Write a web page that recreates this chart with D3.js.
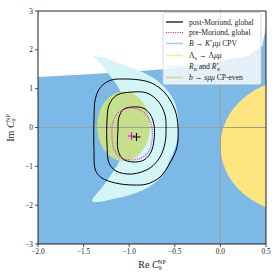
<!DOCTYPE html>
<html><head><meta charset="utf-8">
<script src="https://cdn.jsdelivr.net/npm/d3@7"></script>
<style>body{margin:0;background:#fff}svg{display:block}text{font-family:"Liberation Serif","DejaVu Serif",serif;fill:#222}</style>
</head><body>
<svg id="c" width="280" height="280"></svg>
<script>
// ---- data (Re C9, Im C9) ----
const xTicks = [-2.0,-1.5,-1.0,-0.5,0.0,0.5];
const yTicks = [-3,-2,-1,0,1,2,3];
const blueTop = [[-2,1.30],[-1.4,1.38],[-0.88,1.455],[-0.63,1.50],[-0.11,1.66],[0.3,1.85],[0.46,2.1],[0.5,2.6]];
const yellowCenter = [0.85,-0.475];
const yellowRadii = [0.85,1.73];
const cyanOutline = [[-1.397,1.84],[-1.265,1.79],[-1.068,1.61],[-0.882,1.455],[-0.717,1.25],[-0.586,0.966],[-0.498,0.631],[-0.465,0.27],[-0.465,-0.064],[-0.487,-0.45],[-0.553,-0.837],[-0.662,-1.30],[-0.805,-1.56],[-0.991,-1.74],[-1.178,-1.84],[-1.353,-1.92],[-1.408,-1.89],
  [-1.386,-1.79],[-1.287,-1.51],[-1.178,-1.146],[-1.101,-0.837],[-1.035,-0.32],[-1.024,0.19],[-1.057,0.71],[-1.123,1.04],[-1.21,1.33],[-1.32,1.66],[-1.386,1.82]];
const greenCenter = [-1.062,0.03];
const greenRadii = [0.29,0.9];
const postOuter = [[-1.068,1.249],[-0.882,1.223],[-0.75,1.14],[-0.607,0.888],[-0.498,0.451],[-0.465,0.013],[-0.476,-0.502],[-0.553,-0.914],[-0.662,-1.275],[-0.805,-1.455],[-0.958,-1.481],[-1.15,-1.43],[-1.30,-1.30],[-1.37,-1.10],[-1.386,-0.6],[-1.386,0.2],[-1.37,0.75],[-1.31,1.05],[-1.20,1.22]];
const postMiddle = [[-0.958,0.914],[-0.805,0.888],[-0.684,0.682],[-0.607,0.322],[-0.596,-0.013],[-0.607,-0.399],[-0.662,-0.760],[-0.772,-1.043],[-0.969,-1.198],[-1.145,-1.120],[-1.221,-0.914],[-1.243,-0.451],[-1.243,0.193],[-1.221,0.579],[-1.134,0.837]];
const postInner = [[-0.958,0.528],[-0.849,0.502],[-0.772,0.348],[-0.728,0.064],[-0.728,-0.322],[-0.761,-0.631],[-0.838,-0.837],[-0.958,-0.888],[-1.068,-0.811],[-1.123,-0.579],[-1.123,-0.064],[-1.112,0.270],[-1.057,0.476]];
const preInner = [[-0.991,0.502],[-0.882,0.451],[-0.794,0.270],[-0.750,-0.013],[-0.750,-0.322],[-0.783,-0.605],[-0.871,-0.785],[-0.991,-0.837],[-1.101,-0.760],[-1.167,-0.554],[-1.189,-0.219],[-1.178,0.142],[-1.112,0.399]];
const postBest = [-0.92,-0.245];
const preBest = [-0.975,-0.22];
const legendLabels = ["post-Moriond, global","pre-Moriond, global","B → K*μμ CPV","Λb → Λμμ","RK and RK*","b → sμμ CP-even"];
const legendColors = ["#000","#ee00ee","#a6cbe9","#fde68c","#dff7f7","#c2df8a"];

// ---- layout ----
const svg = d3.select("#c");
const L=38,R=266,T=11,B=244;
const x = d3.scaleLinear().domain([-2,0.5]).range([L,R]);
const y = d3.scaleLinear().domain([-3,3]).range([B,T]);

svg.append("defs").append("clipPath").attr("id","clip").append("rect")
  .attr("x",L).attr("y",T).attr("width",R-L).attr("height",B-T);
const g = svg.append("g").attr("clip-path","url(#clip)");

// blue region
const bluePoly = blueTop.concat([[0.5,-3.2],[-2,-3.2]]);
g.append("path").attr("d", d3.line().x(d=>x(d[0])).y(d=>y(d[1])).curve(d3.curveLinearClosed)(bluePoly))
  .attr("fill","#7db9e6");
// yellow region
g.append("ellipse").attr("cx",x(yellowCenter[0])).attr("cy",y(yellowCenter[1]))
  .attr("rx",x(yellowCenter[0]+yellowRadii[0])-x(yellowCenter[0]))
  .attr("ry",y(yellowCenter[1])-y(yellowCenter[1]+yellowRadii[1]))
  .attr("fill","#fde57f");
// cyan region
const closed = d3.line().x(d=>x(d[0])).y(d=>y(d[1])).curve(d3.curveCatmullRomClosed.alpha(0.5));
g.append("path").attr("d",closed(cyanOutline)).attr("fill","#d4f5f5");
// green region
g.append("ellipse").attr("cx",x(greenCenter[0])).attr("cy",y(greenCenter[1]))
  .attr("rx",x(greenCenter[0]+greenRadii[0])-x(greenCenter[0]))
  .attr("ry",y(greenCenter[1])-y(greenCenter[1]+greenRadii[1]))
  .attr("fill","#c6df8c");
// grid lines at 0
g.append("line").attr("x1",x(0)).attr("x2",x(0)).attr("y1",T).attr("y2",B).attr("stroke","#9e9e9e").attr("stroke-width",1);
g.append("line").attr("x1",L).attr("x2",R).attr("y1",y(0)).attr("y2",y(0)).attr("stroke","#9e9e9e").attr("stroke-width",1);
// contours
[postOuter,postMiddle,postInner].forEach(c=>{
  g.append("path").attr("d",closed(c)).attr("fill","none").attr("stroke","#000").attr("stroke-width",1);
});
g.append("path").attr("d",closed(preInner)).attr("fill","none").attr("stroke","#ee00ee").attr("stroke-width",1.1).attr("stroke-dasharray","1,1.3");
// best fit markers
function plus(p,col){
  const cx=x(p[0]),cy=y(p[1]);
  g.append("path").attr("d",`M${cx-4},${cy}H${cx+4}M${cx},${cy-4}V${cy+4}`).attr("stroke",col).attr("stroke-width",1.1);
}
plus(preBest,"#ee00ee");
plus(postBest,"#000");

// frame
svg.append("rect").attr("x",L).attr("y",T).attr("width",R-L).attr("height",B-T).attr("fill","none").attr("stroke","#222").attr("stroke-width",1);

// ticks
xTicks.forEach(t=>{
  svg.append("line").attr("x1",x(t)).attr("x2",x(t)).attr("y1",B).attr("y2",B+3).attr("stroke","#222").attr("stroke-width",0.8);
  svg.append("text").attr("x",x(t)).attr("y",B+10).attr("text-anchor","middle").attr("font-size",7.3)
    .text(d3.format(".1f")(t).replace("-","−"));
});
yTicks.forEach(t=>{
  svg.append("line").attr("x1",L-3).attr("x2",L).attr("y1",y(t)).attr("y2",y(t)).attr("stroke","#222").attr("stroke-width",0.8);
  svg.append("text").attr("x",L-5).attr("y",y(t)+2.5).attr("text-anchor","end").attr("font-size",7.3)
    .text(String(t).replace("-","−"));
});
// axis labels
function cLabel(sel){
  sel.append("tspan").text("C").attr("font-style","italic");
  sel.append("tspan").text("9").attr("font-size",6).attr("dy",2);
  sel.append("tspan").text("NP").attr("font-size",6).attr("dx",-3.5).attr("dy",-6);
}
const xl = svg.append("text").attr("x",152).attr("y",268).attr("text-anchor","middle").attr("font-size",10);
xl.append("tspan").text("Re ");
cLabel(xl);
const yl = svg.append("text").attr("transform","translate(14,128) rotate(-90)").attr("text-anchor","middle").attr("font-size",10);
yl.append("tspan").text("Im ");
cLabel(yl);

// legend
const lg = svg.append("g");
lg.append("rect").attr("x",163).attr("y",12.5).attr("width",98).attr("height",72).attr("rx",2)
  .attr("fill","#fff").attr("fill-opacity",0.8).attr("stroke","#ccc").attr("stroke-width",0.8);
const rowsY = [22,32.5,43.5,55.5,66.5,77.5];
legendLabels.forEach((lab,i)=>{
  const yy = rowsY[i];
  const ln = lg.append("line").attr("x1",166).attr("x2",183).attr("y1",yy).attr("y2",yy)
    .attr("stroke",legendColors[i]).attr("stroke-width",i<2?1.2:1.5);
  if(i===1) ln.attr("stroke-dasharray","1,1.3");
  const tx = lg.append("text").attr("x",189).attr("y",yy+2.5).attr("font-size",7.6);
  if(i===2){
    tx.append("tspan").text("B").attr("font-style","italic");
    tx.append("tspan").text(" → ");
    tx.append("tspan").text("K").attr("font-style","italic");
    tx.append("tspan").text("*").attr("font-size",5).attr("dy",-3);
    tx.append("tspan").text("μμ").attr("font-style","italic").attr("dy",3);
    tx.append("tspan").text(" CPV");
  } else if(i===3){
    tx.append("tspan").text("Λ");
    tx.append("tspan").text("b").attr("font-size",5).attr("dy",1.5);
    tx.append("tspan").text(" → Λ").attr("dy",-1.5);
    tx.append("tspan").text("μμ").attr("font-style","italic");
  } else if(i===4){
    tx.append("tspan").text("R").attr("font-style","italic");
    tx.append("tspan").text("K").attr("font-style","italic").attr("font-size",5).attr("dy",1.5);
    tx.append("tspan").text(" and ").attr("dy",-1.5);
    tx.append("tspan").text("R").attr("font-style","italic");
    tx.append("tspan").text("*").attr("font-size",5).attr("dy",-3);
    tx.append("tspan").text("K").attr("font-style","italic").attr("font-size",5).attr("dx",-2).attr("dy",4.5);
  } else if(i===5){
    tx.append("tspan").text("b").attr("font-style","italic");
    tx.append("tspan").text(" → ");
    tx.append("tspan").text("sμμ").attr("font-style","italic");
    tx.append("tspan").text(" CP-even");
  } else {
    tx.text(lab);
  }
});
</script>
</body></html>
